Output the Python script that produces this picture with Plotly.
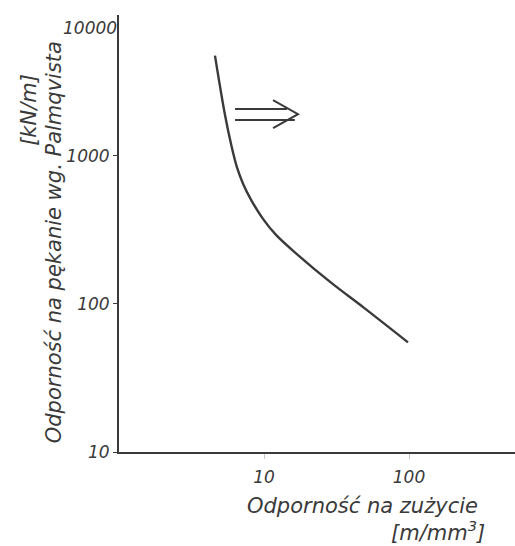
import plotly.graph_objects as go

# Data (log-log)
wear_resistance = [4.59, 5.38, 5.92, 6.52, 7.17, 8.13, 9.84, 12.1, 17.4, 29.0, 49.0, 98.4]   # m/mm^3
crack_resistance = [4740, 1890, 1205, 830, 647, 505, 375, 292, 211, 139, 94, 55]           # kN/m

x_tickvals = [10, 100]
x_ticktext = ["10", "100"]
y_tickvals = [10, 100, 1000]
y_ticktext = ["10", "100", "1000"]
y_top_label = "10000"

ink = "#3a3a3a"
font_family = "DejaVu Sans"

fig = go.Figure()
fig.add_trace(go.Scatter(
    x=wear_resistance, y=crack_resistance, mode="lines",
    line=dict(color=ink, width=2.4, shape="spline", smoothing=1.0),
    hoverinfo="skip", showlegend=False,
))

fig.update_layout(
    width=515, height=546,
    margin=dict(l=119, r=0, t=15, b=94),
    paper_bgcolor="white", plot_bgcolor="white",
    font=dict(family=font_family, color=ink, size=16, style="italic"),
    xaxis=dict(
        type="log", range=[0, 2.731],
        showline=True, linecolor=ink, linewidth=2, mirror=False,
        showgrid=False, zeroline=False,
        tickvals=x_tickvals, ticktext=x_ticktext,
        ticks="outside", ticklen=5, tickcolor="#c8c8c8",
        ticklabelstandoff=4,
        tickfont=dict(size=17, family=font_family, style="italic", color=ink),
    ),
    yaxis=dict(
        type="log", range=[1, 3.95],
        showline=True, linecolor=ink, linewidth=2, mirror=False,
        showgrid=False, zeroline=False,
        tickvals=y_tickvals, ticktext=y_ticktext,
        ticks="outside", ticklen=4, tickcolor=ink,
        tickfont=dict(size=17, family=font_family, style="italic", color=ink),
    ),
)

# "10000" label at the top of the y axis
fig.add_annotation(
    xref="paper", x=0, xanchor="right", xshift=0,
    yref="paper", y=1, yanchor="middle", yshift=-13,
    text=y_top_label, showarrow=False,
    font=dict(size=17, family=font_family, style="italic", color=ink),
)

# Axis titles
fig.add_annotation(
    xref="paper", x=0.614, xanchor="center",
    yref="paper", y=0, yanchor="middle", yshift=-54,
    text="Odporność na zużycie", showarrow=False,
    font=dict(size=21, family=font_family, style="italic", color=ink),
)
fig.add_annotation(
    xref="paper", x=0.806, xanchor="center",
    yref="paper", y=0, yanchor="middle", yshift=-79,
    text="[m/mm<sup>3</sup>]", showarrow=False,
    font=dict(size=21, family=font_family, style="italic", color=ink),
)
fig.add_annotation(
    xref="paper", x=0, xshift=-65, xanchor="center",
    yref="paper", y=0.48, yanchor="middle",
    text="Odporność na pękanie wg. Palmqvista", textangle=-90, showarrow=False,
    font=dict(size=21, family=font_family, style="italic", color=ink),
)
fig.add_annotation(
    xref="paper", x=0, xshift=-90, xanchor="center",
    yref="paper", y=0.783, yanchor="middle",
    text="[kN/m]", textangle=-90, showarrow=False,
    font=dict(size=21, family=font_family, style="italic", color=ink),
)

# Double-shafted arrow (decoration), in paper coordinates
fig.add_shape(type="line", xref="paper", yref="paper", x0=0.293, x1=0.424, y0=0.785, y1=0.785,
              line=dict(color=ink, width=2))
fig.add_shape(type="line", xref="paper", yref="paper", x0=0.293, x1=0.444, y0=0.760, y1=0.760,
              line=dict(color=ink, width=2))
fig.add_shape(
    type="path", xref="paper", yref="paper",
    path="M 0.389 0.805 L 0.452 0.773 L 0.389 0.741",
    line=dict(color=ink, width=2),
)

fig.write_html("out.html")
